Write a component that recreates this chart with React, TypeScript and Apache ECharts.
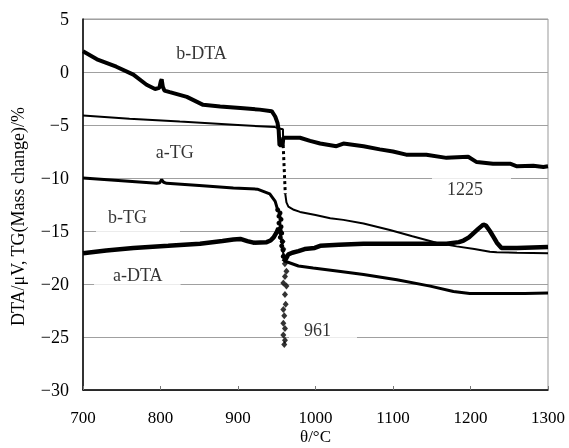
import React, { useEffect, useRef } from "react";
import * as echarts from "echarts";

// ---- data ----
const bDta: number[][] = [
  [700, 1.95], [718, 1.2], [743, 0.5], [765, -0.25], [782, -1.2], [793, -1.6], [798.5, -1.5],
  [800.5, -0.85], [801.5, -0.7], [803, -1.4], [805, -1.75], [812, -1.9], [834, -2.35], [855, -3.1],
  [877, -3.25], [903, -3.4], [928, -3.55], [943.5, -3.7], [948, -4.2], [951, -4.8], [952.5, -5.5],
  [953.5, -6.9], [957.5, -6.9], [958.5, -6.2], [965, -6.2], [980, -6.2], [993, -6.5], [1006, -6.75],
  [1027, -7.0], [1036, -6.75], [1062, -7.0], [1083, -7.3], [1100, -7.5], [1117, -7.8], [1143, -7.8],
  [1169, -8.1], [1197, -8.0], [1208, -8.5], [1229, -8.65], [1251, -8.65], [1260, -8.9], [1281, -8.85],
  [1294, -8.96], [1300, -8.9],
];

const aTgBefore: number[][] = [
  [700, -4.1], [760, -4.4], [825, -4.68], [900, -5.0], [947.7, -5.2], [951.5, -5.3], [958, -5.4], [958.3, -6.9],
];
const aTgDrop: number[][] = [[958.3, -6.9], [961, -11.5]];
const aTgAfter: number[][] = [
  [961, -11.5], [962.5, -12.3], [965, -12.7], [972, -13.0], [980, -13.2], [1000, -13.5], [1019, -13.8],
  [1036, -13.95], [1062, -14.3], [1096, -14.9], [1125, -15.5], [1156, -16.1], [1182, -16.45], [1205, -16.7],
  [1225, -16.95], [1234, -17.0], [1260, -17.05], [1300, -17.1],
];

const bTgBefore: number[][] = [
  [700, -10.0], [750, -10.25], [795, -10.5], [799, -10.45], [801.5, -10.15], [804, -10.4], [808, -10.5],
  [850, -10.7], [894, -10.95], [925, -11.05], [941, -11.5], [948, -12.2], [951.2, -13.0],
];
const bTgDrop: number[][] = [
  [951.2, -13.0], [954.2, -13.3], [952.9, -13.6], [955.5, -13.9], [952.9, -14.25], [955.5, -14.6],
  [954.2, -14.9], [956.4, -15.2], [954.6, -15.6], [957.2, -16.0], [956.4, -16.4], [958.1, -16.8], [958.5, -17.4],
];
const bTgAfter: number[][] = [
  [958.5, -17.4], [962.7, -17.9], [978, -18.3], [997, -18.5], [1030, -18.8], [1062, -19.1], [1105, -19.6],
  [1148, -20.2], [1178, -20.7], [1199, -20.9], [1234, -20.9], [1270, -20.9], [1300, -20.85],
];

const aDtaBefore: number[][] = [
  [700, -17.1], [730, -16.85], [765, -16.6], [810, -16.4], [851, -16.2], [880, -15.95], [894, -15.8],
  [903, -15.75], [912, -15.95], [920, -16.1], [937, -16.05], [942, -15.9], [946, -15.6], [950, -15.1],
  [952, -14.75], [954, -14.9], [956, -15.4],
];
const aDtaDrop: number[][] = [
  [957.5, -16.0], [958.5, -16.7], [959.5, -17.4], [960.5, -18.1], [962.5, -18.8], [960.6, -19.3],
  [958.5, -19.9], [962.5, -20.2], [960.6, -21.0], [961.5, -21.9], [958.5, -22.4], [959.7, -23.0],
  [958.5, -23.7], [960.6, -24.2], [958.5, -24.8], [960.6, -25.3], [959.7, -25.7],
];
const aDtaAfter: number[][] = [
  [958.5, -17.9], [962, -17.6], [965, -17.2], [970, -17.05], [978, -16.9], [986, -16.7], [999, -16.6],
  [1006, -16.4], [1030, -16.3], [1062, -16.2], [1100, -16.2], [1148, -16.2], [1169, -16.2], [1185, -16.05],
  [1191, -15.9], [1198, -15.6], [1204, -15.2], [1210, -14.8], [1216.5, -14.4], [1220, -14.5], [1225, -15.0],
  [1230, -15.6], [1234, -16.1], [1240, -16.6], [1260, -16.6], [1280, -16.55], [1300, -16.5],
];

const labelTexts = ["b-DTA", "a-TG", "b-TG", "a-DTA", "1225", "961"];
const labelAt: number[][] = [
  [852.9, 1.79], [818.3, -7.57], [757.4, -13.23], [770.7, -19.03], [1192.9, -11.18], [1002.6, -24.2],
];

const xMin = 700;
const xMax = 1300;
const xStep = 100;
const yMin = -30;
const yMax = 5;
const yStep = 5;

export default function App() {
  const ref = useRef<HTMLDivElement>(null);
  useEffect(() => {
    const chart = echarts.init(ref.current!, null, { renderer: "svg" });
    const font = "'Liberation Serif', 'Times New Roman', serif";
    const fs = 18;
    const fx = 17;
    const line = (data: number[][], width: number, extra: any = {}) => ({
      type: "line",
      data,
      symbol: "none",
      lineStyle: { color: "#000", width },
      itemStyle: { color: "#000" },
      silent: true,
      z: 2,
      ...extra,
    });
    const pads = [
      [3, 6, 3, 6],
      [3, 6, 3, 6],
      [6, 33, 15, 12],
      [6, 18, 8, 19],
      [10, 28, 6, 15],
      [6, 26, 8, 15],
    ];
    chart.setOption({
      animation: false,
      grid: {
        left: 83,
        right: 21,
        top: 19,
        bottom: 58,
        show: true,
        borderColor: "#999",
        borderWidth: 1,
        containLabel: false,
        outerBoundsMode: "none",
      },
      xAxis: {
        type: "value",
        min: xMin,
        max: xMax,
        interval: xStep,
        axisLine: { show: true, onZero: false, lineStyle: { color: "#000", width: 1.5 } },
        axisTick: { show: true, inside: true, length: 4, lineStyle: { color: "#777" } },
        splitLine: { show: false },
        axisLabel: { color: "#000", fontSize: fx, fontFamily: font, margin: 19, formatter: (v: number) => String(v) },
        name: "θ/°C",
        nameLocation: "middle",
        nameGap: 38,
        nameMoveOverlap: false,
        nameTextStyle: { color: "#000", fontSize: fx, fontFamily: font },
      },
      yAxis: {
        type: "value",
        min: yMin,
        max: yMax,
        interval: yStep,
        axisLine: { show: true, onZero: false, lineStyle: { color: "#000", width: 1.5 } },
        axisTick: { show: false },
        splitLine: { show: true, lineStyle: { color: "#a0a0a0", width: 1 } },
        axisLabel: {
          color: "#000",
          fontSize: fs,
          fontFamily: font,
          margin: 14,
          formatter: (v: number) => String(v).replace("-", "\u2212"),
        },
        name: "DTA/μV, TG(Mass change)/%",
        nameLocation: "middle",
        nameGap: 56,
        nameMoveOverlap: false,
        nameTextStyle: { color: "#000", fontSize: fs, fontFamily: font, padding: [0, 24, 0, 0] },
      },
      series: [
        line(bDta, 4),
        line(aTgBefore, 2),
        line(aTgDrop, 3, { lineStyle: { color: "#000", width: 3, type: [3, 3] } }),
        line(aTgAfter, 2),
        line(bTgBefore, 3),
        line(bTgDrop, 2, { symbol: "circle", symbolSize: 5, showSymbol: true }),
        line(bTgAfter, 3),
        line(aDtaBefore, 4.5),
        {
          type: "scatter",
          data: aDtaDrop,
          symbol: "diamond",
          symbolSize: [6, 7],
          itemStyle: { color: "#000" },
          silent: true,
          z: 2,
        },
        line(aDtaAfter, 4.5),
        {
          type: "scatter",
          silent: true,
          z: 5,
          symbolSize: 1,
          itemStyle: { color: "rgba(0,0,0,0)" },
          data: labelAt.map((p, i) => ({
            value: p,
            name: labelTexts[i],
            label: {
              padding: pads[i],
              offset: [(pads[i][1] - pads[i][3]) / 2, (pads[i][2] - pads[i][0]) / 2],
            },
          })),
          label: {
            show: true,
            position: "inside",
            formatter: "{b}",
            color: "#000",
            fontSize: fs,
            fontFamily: font,
            backgroundColor: "#fff",
          },
        },
      ],
    });
    return () => chart.dispose();
  }, []);
  return <div ref={ref} style={{ position: "fixed", left: 0, top: 0, width: 569, height: 448 }} />;
}
